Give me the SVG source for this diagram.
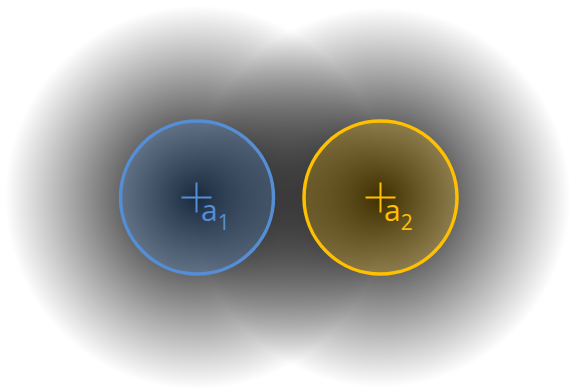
<svg xmlns="http://www.w3.org/2000/svg" width="570" height="389" viewBox="0 0 570 389">
  <defs>
    <radialGradient id="blob" cx="0.5" cy="0.5" r="0.5">
      <stop offset="0" stop-color="#000" stop-opacity="1"/>
      <stop offset="1" stop-color="#000" stop-opacity="0"/>
    </radialGradient>
  </defs>
  <style>
    .lbl { font-family: "Open Sans", "Liberation Sans", sans-serif; }
    .main { font-size: 30px; }
    .sub { font-size: 21px; }
    .cross { stroke-width: 2; fill: none; }
  </style>
  <rect width="570" height="389" fill="#fff"/>
  <g id="fields">
    <circle cx="197" cy="197.5" r="192" fill="url(#blob)"/>
    <circle cx="380.5" cy="197.5" r="190" fill="url(#blob)"/>
  </g>
  <g id="a1">
    <circle cx="197" cy="197.5" r="76.5" fill="#558ED5" fill-opacity="0.3" stroke="#558ED5" stroke-width="3.5"/>
    <path class="cross" stroke="#558ED5" d="M181.5 197.5H211.5M196.5 182.5V212.5"/>
    <text class="lbl" fill="#558ED5" x="201" y="221"><tspan class="main">a</tspan><tspan class="sub" dy="9">1</tspan></text>
  </g>
  <g id="a2">
    <circle cx="380.5" cy="197.5" r="76.5" fill="#FFC000" fill-opacity="0.25" stroke="#FFC000" stroke-width="3.5"/>
    <path class="cross" stroke="#FFC000" d="M365.5 197.5H395.5M380.5 182.5V212.5"/>
    <text class="lbl" fill="#FFC000" x="384" y="221"><tspan class="main">a</tspan><tspan class="sub" dy="9">2</tspan></text>
  </g>
  <g id="connectors"/>
</svg>
